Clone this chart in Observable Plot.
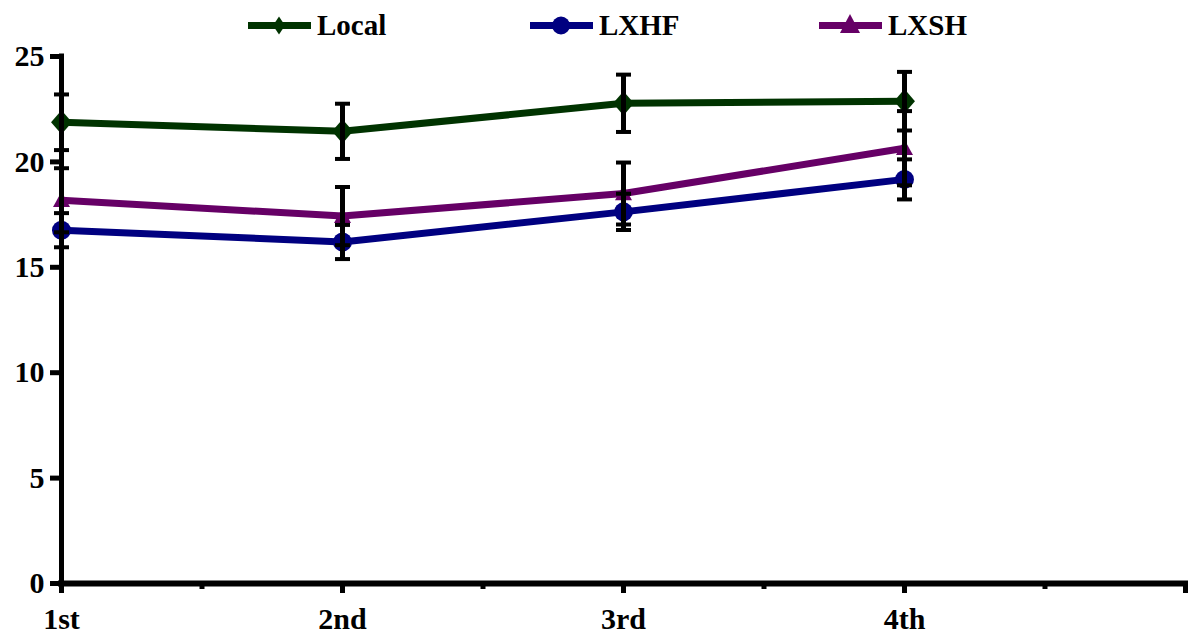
<!DOCTYPE html>
<html><head><meta charset="utf-8">
<script src="https://cdn.jsdelivr.net/npm/d3@7"></script>
<script src="https://cdn.jsdelivr.net/npm/@observablehq/plot@0.6"></script>
<style>
html,body{margin:0;padding:0;background:#fff;}
#legend{display:block;}
</style></head><body>
<div id="legend"></div>
<div id="chart"></div>
<script>
// ---- data ----
const categories = ["1st", "2nd", "3rd", "4th"];
const seriesNames = ["Local", "LXHF", "LXSH"];
const localMean = [21.88, 21.45, 22.78, 22.88];
const localErr  = [1.32, 1.31, 1.36, 1.39];
const lxhfMean  = [16.76, 16.20, 17.63, 19.17];
const lxhfErr   = [0.81, 0.81, 0.86, 0.95];
const lxshMean  = [18.18, 17.43, 18.50, 20.65];
const lxshErr   = [1.52, 1.38, 1.47, 1.76];
const colors = ["#003300", "#000080", "#660066"];
const yTicks = [0, 5, 10, 15, 20, 25];
const xMajor = [0, 1, 2, 3, 4];
const xMinor = [0.5, 1.5, 2.5, 3.5];

const means = [localMean, lxhfMean, lxshMean];
const errs = [localErr, lxhfErr, lxshErr];
const rows = [];
seriesNames.forEach((s, k) => {
  categories.forEach((c, i) => rows.push({series: s, i, cat: c, value: means[k][i], err: errs[k][i]}));
});

// ---- symbols ----
const diamond = {draw(ctx, size) { const r = Math.sqrt(size / Math.PI);
  ctx.moveTo(0, -r * 1.1); ctx.lineTo(r * 0.95, 0); ctx.lineTo(0, r * 1.1); ctx.lineTo(-r * 0.95, 0); ctx.closePath(); }};
const triangle = {draw(ctx, size) { const r = Math.sqrt(size / Math.PI);
  ctx.moveTo(0, -r); ctx.lineTo(r, r * 0.8); ctx.lineTo(-r, r * 0.8); ctx.closePath(); }};
const cap = {draw(ctx, size) { const r = Math.sqrt(size / Math.PI);
  ctx.moveTo(-r, 0); ctx.lineTo(r, 0); }};
const markerSym = [diamond, "circle", triangle];
const markerR = [11, 9.5, 8.5];

const FONT = "'Liberation Serif', 'Times New Roman', serif";

// ---- legend ----
const legendLeft = [248, 530, 819];
const lg = d3.create("svg").attr("width", 1195).attr("height", 40)
  .style("display", "block").style("font-family", FONT).style("font-weight", "bold").style("font-size", "29px");
seriesNames.forEach((s, k) => {
  const g = lg.append("g").attr("transform", `translate(${legendLeft[k]},0)`);
  g.append("line").attr("x1", 0).attr("x2", 63).attr("y1", 25.5).attr("y2", 25.5)
    .attr("stroke", colors[k]).attr("stroke-width", 7);
  let p;
  if (k === 0) p = "M31,16.5L37,25.5L31,34.5L25,25.5Z";
  else if (k === 1) p = null;
  else p = "M31,14L41,33L21,33Z";
  if (p) g.append("path").attr("d", p).attr("fill", colors[k]);
  else g.append("circle").attr("cx", 31).attr("cy", 25.5).attr("r", 9).attr("fill", colors[k]);
  g.append("text").attr("x", 69).attr("y", 34.5).attr("fill", "black").text(s);
});
document.getElementById("legend").append(lg.node());

// ---- chart ----
const AX = {fontSize: 30, fontWeight: "bold", fontFamily: FONT};
const chart = Plot.plot({
  width: 1195, height: 594,
  marginLeft: 61, marginRight: 10, marginTop: 16, marginBottom: 51,
  x: {domain: [0, 4], label: null},
  y: {domain: [0, 25], label: null},
  style: {fontFamily: FONT, fontSize: "30px", fontWeight: "bold", background: "white", color: "black"},
  marks: [
    Plot.axisY(yTicks, {...AX, tickSize: 11, tickPadding: 6, strokeWidth: 5, label: null}),
    Plot.axisX(xMajor, {...AX, tickSize: 10, tickPadding: 14, strokeWidth: 5, label: null, tickFormat: i => categories[i] ?? ""}),
    Plot.axisX(xMinor, {tickSize: 6, strokeWidth: 5, label: null, tickFormat: () => ""}),
    Plot.ruleX([0], {y1: 0, y2: 25, stroke: "black", strokeWidth: 5, strokeLinecap: "square"}),
    Plot.ruleY([0], {x1: 0, x2: 4, stroke: "black", strokeWidth: 6, strokeLinecap: "square"}),
    Plot.line(rows, {x: "i", y: "value", z: "series", stroke: d => colors[seriesNames.indexOf(d.series)], strokeWidth: 7, strokeLinejoin: "miter"}),
    ...seriesNames.map((s, k) => Plot.dot(rows.filter(d => d.series === s), {
      x: "i", y: "value", symbol: markerSym[k], r: markerR[k], fill: colors[k], stroke: "none"})),
    Plot.ruleX(rows, {x: "i", y1: d => d.value - d.err, y2: d => d.value + d.err, stroke: "black", strokeWidth: 5}),
    Plot.dot(rows, {x: "i", y: d => d.value + d.err, symbol: cap, r: 7.5, stroke: "black", strokeWidth: 4, fill: "none"}),
    Plot.dot(rows, {x: "i", y: d => d.value - d.err, symbol: cap, r: 7.5, stroke: "black", strokeWidth: 4, fill: "none"})
  ]
});
document.getElementById("chart").append(chart);
</script>
</body></html>
